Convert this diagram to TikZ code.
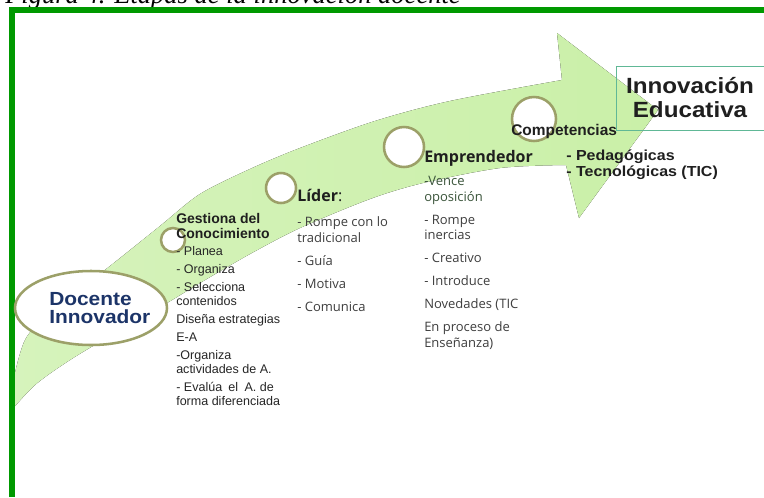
\documentclass[tikz,border=0pt]{standalone}
\usepackage{fontspec}
\setmainfont{Liberation Sans}
\setsansfont{Liberation Sans}
\newfontfamily\segoe{Open Sans}
\newfontfamily\widesans[FakeStretch=1.1]{Liberation Sans}
\newfontfamily\captionserif{Liberation Serif}
\usetikzlibrary{shapes.geometric}
\definecolor{frameGreen}{RGB}{0,153,0}
\definecolor{arrowTail}{RGB}{214,243,188}
\definecolor{arrowMid}{RGB}{190,236,142}
\definecolor{arrowHead}{RGB}{202,240,168}
\definecolor{ringOlive}{RGB}{156,160,104}
\definecolor{docenteBlue}{RGB}{28,52,104}
\definecolor{boxTeal}{RGB}{96,184,150}
\definecolor{listGray}{RGB}{62,62,62}
\definecolor{venceGreen}{RGB}{58,84,58}

\begin{document}
\begin{tikzpicture}[x = 0.75pt, y = -0.75pt, font = \sffamily]
	\tikzstyle{stageStyle} = [shape = circle, draw = ringOlive, line width = 1.9pt, fill = white, inner sep = 0pt]
	\tikzstyle{docenteStyle} = [shape = ellipse, draw = ringOlive, line width = 1.9pt, fill = white, minimum width = 114pt, minimum height = 55.5pt]
	\tikzstyle{headStyle} = [anchor = base west, align = left, inner sep = 0pt, text = black!88]
	\tikzstyle{listStyle} = [anchor = base west, align = left, inner sep = 0pt]
	\fill[white] (0,0) rectangle (764,497);
	\useasboundingbox (0,0) rectangle (764,497);
	\node[anchor = base west, inner sep = 0pt, font = \captionserif\itshape\fontsize{19.9}{24}\selectfont] (caption) at (5,3) {Figura 4. Etapas de la innovación docente};
	\begin{scope}
		\clip (15,0) rectangle (764,497);
		\fill[left color = arrowTail, middle color = arrowMid, right color = arrowHead]
			plot[smooth] coordinates {(8,405) (25,340) (60,305) (110,266) (160,226) (200,194) (250,169) (300,148) (375,121) (450,101) (562,80)}
			-- (557,33) -- (658,110) -- (579,218) -- (566,165)
			-- plot[smooth] coordinates {(566,165) (500,168) (423,183) (370,199) (300,228) (250,254) (200,283) (167,303) (120,330) (70,360) (35,385) (10,412)}
			-- cycle;
	\end{scope}
	\draw[frameGreen, line width = 4.5pt] (12,497) -- (12,10) -- (764,10);
	\node[docenteStyle] (docente) at (91,308) {};
	\node[stageStyle, minimum size = 18pt] (gestionaRing) at (173,240) {};
	\node[stageStyle, minimum size = 22.5pt] (liderRing) at (281,188) {};
	\node[stageStyle, minimum size = 30pt] (emprendedorRing) at (404,147) {};
	\node[stageStyle, minimum size = 33pt] (competenciasRing) at (534,119) {};
	\node[headStyle, text = docenteBlue, font = \widesans\bfseries\fontsize{14.25}{13.5}\selectfont] (docenteTxt) at (49,323) {Docente\\Innovador};
	\node[headStyle, font = \sffamily\bfseries\fontsize{10.5}{11.25}\selectfont] (gestiona) at (176,238) {Gestiona del\\Conocimiento};
	\node[listStyle, text = black!85, font = \sffamily\fontsize{9.4}{10.5}\selectfont] (gestionaList) at (176,405) {- Planea\\[3pt] - Organiza\\[3pt] - Selecciona\\contenidos\\[3pt] Diseña estrategias\\[3pt] E-A\\[3pt] -Organiza\\actividades de A.\\[3pt] - Evalúa\enspace el\enspace A. de\\forma diferenciada};
	\node[headStyle, font = \segoe\fontsize{12}{14}\selectfont] (lider) at (297,201) {\textbf{Líder}:};
	\node[listStyle, text = listGray, font = \segoe\fontsize{9.75}{12}\selectfont] (liderList) at (297,311) {- Rompe con lo\\tradicional\\[5.25pt] - Guía\\[5.25pt] - Motiva\\[5.25pt] - Comunica};
	\node[headStyle, font = \segoe\bfseries\fontsize{12}{14}\selectfont] (emprendedor) at (424,162) {Emprendedor};
	\node[listStyle, text = listGray, font = \segoe\fontsize{9.75}{11.6}\selectfont] (emprendedorList) at (424,347) {\textcolor{venceGreen}{-Vence}\\\textcolor{venceGreen}{oposición}\\[5.6pt] - Rompe\\inercias\\[5.6pt] - Creativo\\[5.6pt] - Introduce\\[5.6pt] Novedades (TIC\\[5.6pt] En proceso de\\Enseñanza)};
	\node[headStyle, font = \sffamily\bfseries\fontsize{11.6}{14}\selectfont] (competencias) at (511,135) {Competencias};
	\node[headStyle, font = \widesans\bfseries\fontsize{10.9}{12}\selectfont] (competenciasList) at (566,176) {- Pedagógicas\\- Tecnológicas (TIC)};
	\node[draw = boxTeal, line width = 0.75pt, minimum width = 111pt, minimum height = 48pt, inner sep = 0pt] (innovBox) at (690,98) {};
	\node[anchor = base, align = center, inner sep = 0pt, text = black!88, font = \widesans\bfseries\fontsize{16.5}{18}\selectfont] (innovacion) at (690,117) {Innovación\\Educativa};
\end{tikzpicture}
\end{document}
